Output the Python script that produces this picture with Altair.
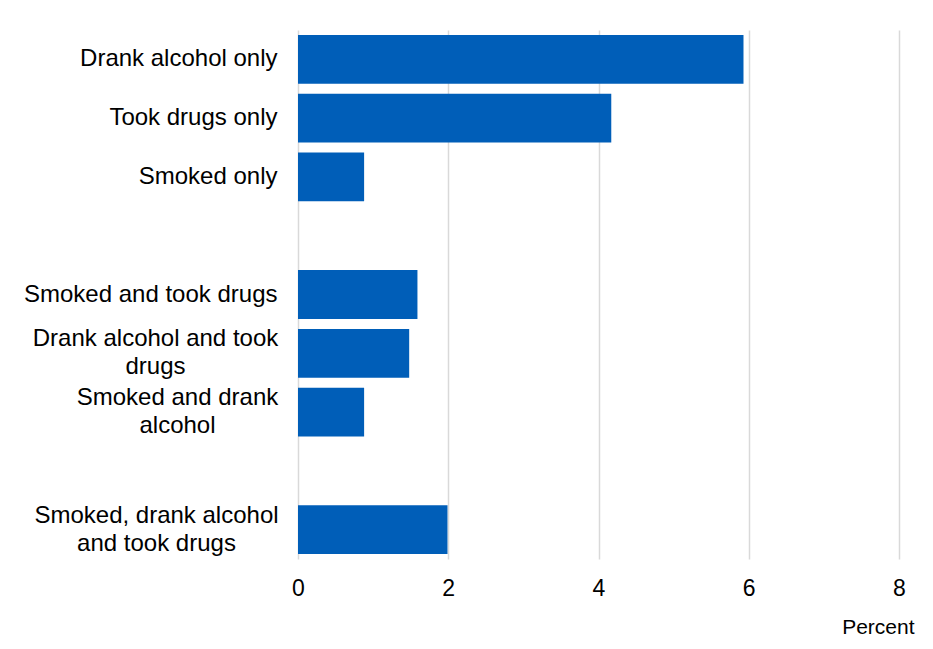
import altair as alt
import pandas as pd

# Categories in display order; "gap" rows are empty spacer rows
categories = [
    "Drank alcohol only",
    "Took drugs only",
    "Smoked only",
    "gap1",
    "Smoked and took drugs",
    "Drank alcohol and took\ndrugs",
    "Smoked and drank\nalcohol",
    "gap2",
    "Smoked, drank alcohol\nand took drugs",
]
bar_categories = [
    "Drank alcohol only",
    "Took drugs only",
    "Smoked only",
    "Smoked and took drugs",
    "Drank alcohol and took\ndrugs",
    "Smoked and drank\nalcohol",
    "Smoked, drank alcohol\nand took drugs",
]
values = [5.93, 4.17, 0.88, 1.59, 1.48, 0.88, 1.99]
x_ticks = [0, 2, 4, 6, 8]

df = pd.DataFrame({"category": bar_categories, "value": values})

FONT = "Liberation Sans"

label_pad = {
    "condition": [
        {"test": "indexof(datum.label, 'Drank alcohol and took') >= 0", "value": 143},
        {"test": "indexof(datum.label, 'Smoked and drank') >= 0", "value": 121},
        {"test": "indexof(datum.label, 'Smoked, drank alcohol') >= 0", "value": 142},
    ],
    "value": 21,
}
label_align = {
    "condition": {"test": "indexof(datum.label, '\\n') >= 0", "value": "center"},
    "value": "right",
}
label_offset = {
    "condition": {"test": "indexof(datum.label, '\\n') >= 0", "value": -14},
    "value": 0,
}

chart = (
    alt.Chart(df)
    .mark_bar(color="#005EB8")
    .encode(
        x=alt.X(
            "value:Q",
            scale=alt.Scale(domain=[0, 8], nice=False),
            axis=alt.Axis(
                values=x_ticks,
                title="Percent",
                titleFont=FONT,
                titleFontSize=21,
                titleFontWeight="normal",
                titleColor="#000000",
                titleAlign="right",
                titleBaseline="middle",
                titleX=616,
                titleY=68,
                labelFont=FONT,
                labelFontSize=23,
                labelColor="#000000",
                labelPadding=18,
                labelFlush=False,
                labelOverlap=False,
                ticks=False,
                domain=False,
                grid=True,
                gridColor="#D9D9D9",
                gridWidth=1.5,
            ),
        ),
        y=alt.Y(
            "category:N",
            sort=categories,
            scale=alt.Scale(domain=categories, paddingInner=0.17, paddingOuter=0.085),
            axis=alt.Axis(
                title=None,
                labelExpr="indexof(datum.label, 'gap') == 0 ? '' : split(datum.label, '\\n')",
                labelFont=FONT,
                labelFontSize=24,
                labelColor="#000000",
                labelLineHeight=28,
                labelAlign=label_align,
                labelPadding=label_pad,
                labelOffset=label_offset,
                labelLimit=400,
                labelOverlap=False,
                ticks=False,
                domain=False,
                grid=False,
            ),
        ),
    )
    .properties(
        width=601,
        height=529,
        autosize=alt.AutoSizeParams(type="none"),
        padding={"left": 290, "top": 22, "right": 26, "bottom": 82},
        background="#FFFFFF",
    )
    .configure_view(stroke=None)
)

chart.save("out.html", embed_options={"renderer": "svg", "actions": False})
